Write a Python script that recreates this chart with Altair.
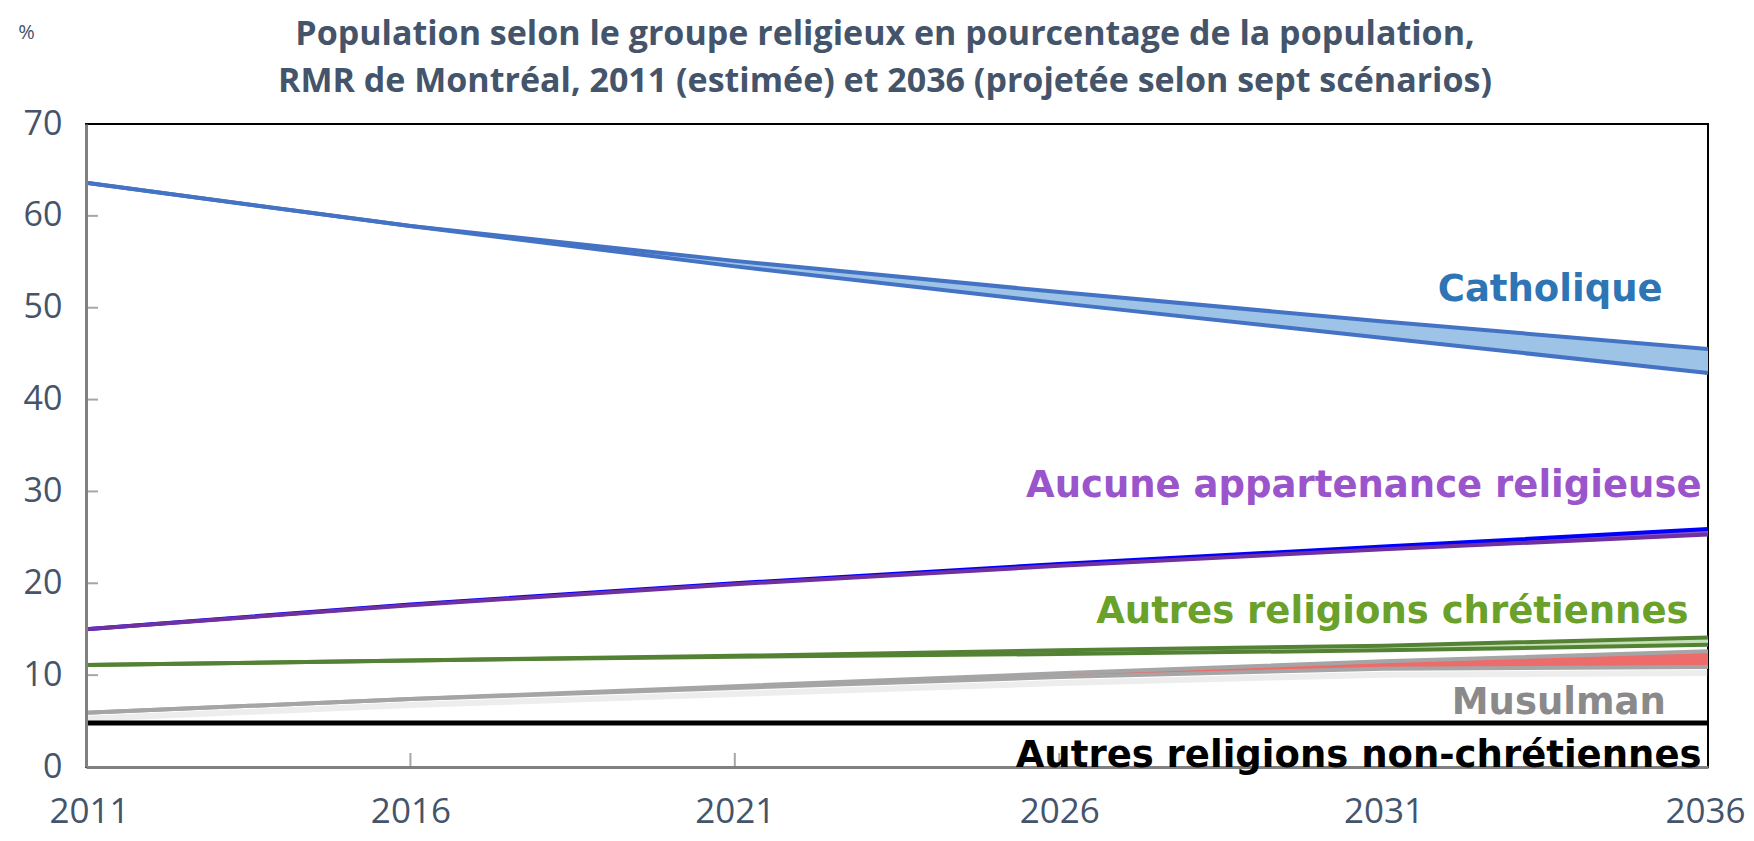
import altair as alt
import pandas as pd

# ---------------- data ----------------
years = [2011, 2016, 2021, 2026, 2031, 2036]

catholique_high = [63.6, 58.9, 55.1, 51.7, 48.5, 45.5]
catholique_low = [63.6, 58.9, 54.5, 50.5, 46.7, 42.9]

aucune_high = [15.0, 17.7, 20.0, 22.1, 24.0, 25.9]
aucune_low = [15.0, 17.6, 19.9, 21.9, 23.7, 25.3]

chretiennes_high = [11.1, 11.6, 12.1, 12.7, 13.2, 14.1]
chretiennes_low = [11.1, 11.6, 12.0, 12.3, 12.7, 13.3]

musulman_high = [5.9, 7.4, 8.8, 10.2, 11.5, 12.6]
musulman_low = [5.9, 7.4, 8.6, 9.8, 10.7, 10.9]

non_chretiennes = [4.8, 4.8, 4.8, 4.8, 4.8, 4.8]

groups = ["Catholique", "Aucune appartenance religieuse",
          "Autres religions chrétiennes", "Musulman",
          "Autres religions non-chrétiennes"]

label_year = [2035.3, 2035.9, 2035.7, 2035.35, 2035.9]
label_value = [51.9, 30.6, 16.9, 7.0, 1.15]

x_ticks = [2011, 2016, 2021, 2026, 2031, 2036]
y_ticks = [0, 10, 20, 30, 40, 50, 60, 70]

title_lines = ["Population selon le groupe religieux en pourcentage de la population,",
               "RMR de Montréal, 2011 (estimée) et 2036 (projetée selon sept scénarios)"]

# ---------------- tables ----------------
highs = [catholique_high, aucune_high, chretiennes_high, musulman_high, non_chretiennes]
lows = [catholique_low, aucune_low, chretiennes_low, musulman_low, non_chretiennes]

band_rows = []
line_rows = []
for g, hi, lo in zip(groups, highs, lows):
    for yr, h, l in zip(years, hi, lo):
        band_rows.append({"group": g, "year": yr, "low": l, "high": h})
        line_rows.append({"series": g + " haut", "year": yr, "value": h})
        line_rows.append({"series": g + " bas", "year": yr, "value": l})
bands = pd.DataFrame(band_rows)
lines = pd.DataFrame(line_rows)
labels = pd.DataFrame({"group": groups, "year": label_year, "value": label_value})

TXT = "#44546A"
W, H = 1622, 643

xscale = alt.Scale(domain=[2011, 2036], nice=False, zero=False)
yscale = alt.Scale(domain=[0, 70], nice=False)

band_colors = ["#9DC3E6", "#8E56C8", "#C5E0B4", "#EE6B6B", "#000000"]
line_domain = []
line_range = []
line_cols = {
    "Catholique": ("#4472C4", "#4472C4"),
    "Aucune appartenance religieuse": ("#0000FF", "#7030A0"),
    "Autres religions chrétiennes": ("#548235", "#548235"),
    "Musulman": ("#A5A5A5", "#A5A5A5"),
    "Autres religions non-chrétiennes": ("#000000", "#000000"),
}
for g in groups:
    line_domain += [g + " bas", g + " haut"]
    line_range += [line_cols[g][1], line_cols[g][0]]

label_colors = ["#2E75B6", "#9B55CC", "#6AA12A", "#8A8A8A", "#000000"]

x_enc = alt.X("year:Q", scale=xscale, axis=alt.Axis(
    values=x_ticks, format="d", labelFontSize=35, labelColor=TXT, labelFont="Open Sans",
    labelPadding=27, ticks=False, grid=False, domainColor="#808080", domainWidth=3,
    title=None, labelFlush=True, labelFlushOffset=37))

base = alt.Chart(bands)

shadow = alt.Chart(lines[lines["series"] == "Musulman bas"]).mark_line(
    color="#9a9a9a", strokeWidth=6, opacity=0.18, yOffset=6
).encode(x=alt.X("year:Q", scale=xscale), y=alt.Y("value:Q", scale=yscale))

area = base.mark_area(opacity=1).encode(
    x=x_enc,
    y=alt.Y("low:Q", scale=yscale, axis=alt.Axis(
        values=y_ticks, labelFontSize=34, labelColor=TXT, labelFont="Open Sans",
        labelPadding=24, ticks=False, grid=False, domainColor="#808080", domainWidth=3,
        title="%", titleAngle=0, titleFontSize=20, titleFont="Open Sans",
        titleFontWeight="normal", titleColor=TXT, titleX=-60, titleY=-92,
        titleAlign="center", titleBaseline="middle", zindex=1)),
    y2="high:Q",
    color=alt.Color("group:N", scale=alt.Scale(domain=groups, range=band_colors), legend=None),
)

line = alt.Chart(lines).mark_line(strokeWidth=4).encode(
    x=alt.X("year:Q", scale=xscale),
    y=alt.Y("value:Q", scale=yscale),
    detail="series:N",
    color=alt.Color("series:N", scale=alt.Scale(domain=line_domain, range=line_range), legend=None),
)

black = alt.Chart(lines[lines["series"] == "Autres religions non-chrétiennes haut"]).mark_line(
    strokeWidth=5, color="#000000").encode(
    x=alt.X("year:Q", scale=xscale), y=alt.Y("value:Q", scale=yscale))

text = alt.Chart(labels).mark_text(
    font="DejaVu Sans", fontWeight="bold", fontSize=37, align="right", baseline="middle"
).encode(
    x=alt.X("year:Q", scale=xscale),
    y=alt.Y("value:Q", scale=yscale),
    text="group:N",
    color=alt.Color("group:N", scale=alt.Scale(domain=groups, range=label_colors), legend=None),
)

xt = alt.Chart(pd.DataFrame({"year": x_ticks[1:-1]})).mark_tick(
    color="#808080", thickness=2, size=14, orient="vertical", yOffset=-7
).encode(x=alt.X("year:Q", scale=xscale), y=alt.value(H))

yt = alt.Chart(pd.DataFrame({"value": y_ticks[1:-1]})).mark_tick(
    color="#808080", thickness=2, size=12, orient="horizontal", xOffset=6
).encode(y=alt.Y("value:Q", scale=yscale), x=alt.value(0))

chart = alt.layer(area, shadow, line, black, xt, yt, text).resolve_scale(color="independent").properties(
    width=W, height=H,
    autosize=alt.AutoSizeParams(type="none"),
    padding={"left": 78, "top": 116, "right": 38, "bottom": 66},
    title=alt.TitleParams(title_lines, fontSize=34, font="Open Sans", fontWeight="bold",
                          color=TXT, anchor="middle", lineHeight=47, offset=-77, dx=-12),
).configure_view(stroke="#000000", strokeWidth=2)

chart.save("out.html", embed_options={"renderer": "svg", "actions": False})
